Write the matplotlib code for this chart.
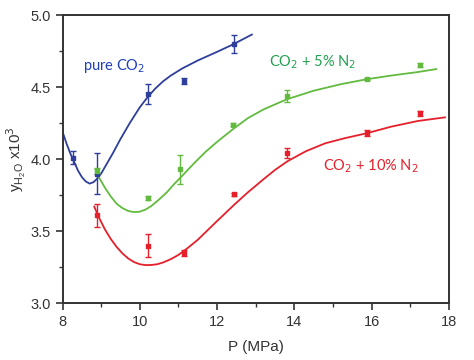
import numpy as np
import matplotlib
matplotlib.use('Agg')
import matplotlib.pyplot as plt
from matplotlib.ticker import MultipleLocator, FormatStrFormatter

plt.rcParams['font.family'] = ['Liberation Sans', 'DejaVu Sans']

# measured points (P in MPa, y_H2O x10^3, error)
p_co2 = [8.27, 8.9, 10.22, 11.15, 12.43]
y_co2 = [4.01, 3.90, 4.45, 4.54, 4.80]
e_co2 = [0.045, 0.14, 0.07, 0.02, 0.065]

p_n5 = [8.9, 10.22, 11.05, 12.42, 13.82, 15.88, 17.26]
y_n5 = [3.92, 3.73, 3.93, 4.24, 4.44, 4.556, 4.655]
e_n5 = [0.02, 0.015, 0.10, 0.01, 0.04, 0.01, 0.015]

p_n10 = [8.9, 10.22, 11.15, 12.45, 13.82, 15.88, 17.26]
y_n10 = [3.61, 3.40, 3.35, 3.757, 4.04, 4.18, 4.317]
e_n10 = [0.08, 0.08, 0.02, 0.01, 0.035, 0.02, 0.015]

# fitted curves
cx_co2 = [8.0, 8.1, 8.2, 8.3, 8.4, 8.5, 8.6, 8.7, 8.8, 8.9, 9.0, 9.15, 9.3, 9.5, 9.75,
          10.0, 10.2, 10.4, 10.6, 10.8, 11.1, 11.5, 12.0, 12.4, 12.9]
cy_co2 = [4.19, 4.11, 4.04, 3.98, 3.92, 3.875, 3.845, 3.83, 3.84, 3.865, 3.90, 3.97,
          4.04, 4.14, 4.255, 4.36, 4.43, 4.49, 4.54, 4.58, 4.63, 4.685, 4.745, 4.795, 4.865]

cx_n5 = [8.85, 8.95, 9.1, 9.25, 9.4, 9.55, 9.7, 9.85, 10.0, 10.15, 10.3, 10.5, 10.7,
         10.9, 11.1, 11.4, 11.7, 12.0, 12.42, 12.8, 13.2, 13.8, 14.5, 15.2, 15.88,
         16.5, 17.2, 17.67]
cy_n5 = [3.93, 3.87, 3.80, 3.74, 3.69, 3.66, 3.64, 3.632, 3.635, 3.65, 3.675, 3.72, 3.77,
         3.83, 3.885, 3.97, 4.05, 4.12, 4.21, 4.285, 4.345, 4.415, 4.475, 4.52, 4.555,
         4.58, 4.605, 4.625]

cx_n10 = [8.82, 8.95, 9.1, 9.25, 9.4, 9.55, 9.7, 9.85, 10.0, 10.15, 10.3, 10.45, 10.6,
          10.8, 11.0, 11.25, 11.5, 11.75, 12.0, 12.45, 12.8, 13.2, 13.5, 13.82, 14.3,
          14.8, 15.3, 15.88, 16.5, 17.2, 17.9]
cy_n10 = [3.67, 3.59, 3.51, 3.445, 3.39, 3.345, 3.31, 3.285, 3.27, 3.264, 3.265, 3.27,
          3.282, 3.305, 3.335, 3.385, 3.44, 3.505, 3.57, 3.685, 3.77, 3.86, 3.925, 3.985,
          4.055, 4.11, 4.145, 4.18, 4.225, 4.265, 4.29]

c_blue = '#2e3e9c'
c_green = '#62bb3f'
c_red = '#e5202b'

fig = plt.figure(figsize=(4.74, 3.6), dpi=100)
ax = fig.add_axes([0.132, 0.158, 0.815, 0.8])

for cx, cy, px, py, pe, col in [(cx_co2, cy_co2, p_co2, y_co2, e_co2, c_blue),
                                (cx_n5, cy_n5, p_n5, y_n5, e_n5, c_green),
                                (cx_n10, cy_n10, p_n10, y_n10, e_n10, c_red)]:
    ax.plot(cx, cy, color=col, lw=1.3)
    ax.errorbar(px, py, yerr=pe, fmt='s', ms=2.2, color=col, ecolor=col,
                elinewidth=1.0, capsize=2.5, capthick=1.0)

ax.text(8.53, 4.65, 'pure CO$_2$', color='#1e3fbf', fontsize=10.5,
        family=['Lato', 'DejaVu Sans'], va='center')
ax.text(13.35, 4.67, 'CO$_2$ + 5% N$_2$', color='#22a050', fontsize=10.5,
        family=['Lato', 'DejaVu Sans'], va='center')
ax.text(14.74, 3.95, 'CO$_2$ + 10% N$_2$', color='#e5202b', fontsize=10.5,
        family=['Lato', 'DejaVu Sans'], va='center')

ax.set_xlim(8, 18)
ax.set_ylim(3.0, 5.0)
ax.xaxis.set_major_locator(MultipleLocator(2))
ax.xaxis.set_minor_locator(MultipleLocator(1))
ax.yaxis.set_major_locator(MultipleLocator(0.5))
ax.yaxis.set_minor_locator(MultipleLocator(0.25))
ax.yaxis.set_major_formatter(FormatStrFormatter('%.1f'))

for s in ax.spines.values():
    s.set_linewidth(1.4)
    s.set_color('#333333')
ax.tick_params(which='major', direction='out', length=5, width=1.2,
               labelsize=10.5, colors='#333333')
ax.tick_params(which='minor', direction='out', length=3, width=1.0, colors='#333333')

ax.set_xlabel('P (MPa)', fontsize=11, color='#333333', labelpad=8)
ax.set_ylabel('y$_{\\mathregular{H_2O}}$ x10$^3$', fontsize=11, color='#333333', labelpad=2)

fig.savefig('out.png', dpi=100)
